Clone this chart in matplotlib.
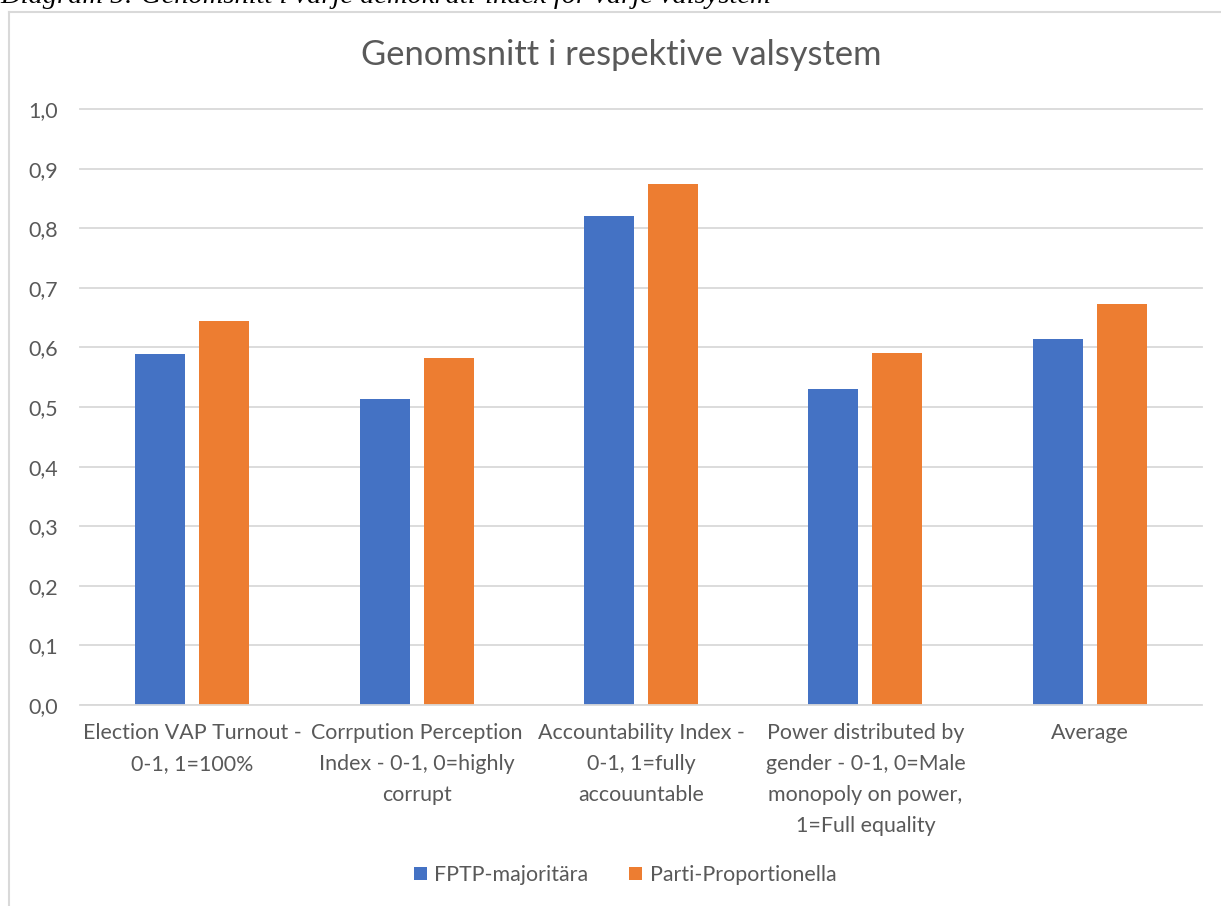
import matplotlib
matplotlib.use("Agg")
import matplotlib.pyplot as plt
from matplotlib.lines import Line2D
from matplotlib.patches import Patch
import numpy as np

categories = [
    "Election VAP Turnout -\n0-1, 1=100%",
    "Corrpution Perception\nIndex - 0-1, 0=highly\ncorrupt",
    "Accountability Index -\n0-1, 1=fully\naccouuntable",
    "Power distributed by\ngender - 0-1, 0=Male\nmonopoly on power,\n1=Full equality",
    "Average",
]
fptp = [0.589, 0.514, 0.821, 0.531, 0.614]
parti = [0.644, 0.582, 0.874, 0.590, 0.673]
series_names = ["FPTP-majoritära", "Parti-Proportionella"]
yticks = [0.0, 0.1, 0.2, 0.3, 0.4, 0.5, 0.6, 0.7, 0.8, 0.9, 1.0]
ytick_labels = ["0,0", "0,1", "0,2", "0,3", "0,4", "0,5", "0,6", "0,7", "0,8", "0,9", "1,0"]
title = "Genomsnitt i respektive valsystem"
caption = "Diagram 5: Genomsnitt i varje demokrati-index för varje valsystem"

W, H = 1221, 906
BLUE = "#4472C4"
ORANGE = "#ED7D31"
GRAY = "#595959"
GRID = "#D9D9D9"
FONT = "Lato"
FS = 15.4

fig = plt.figure(figsize=(W / 100, H / 100), dpi=100)
fig.patch.set_facecolor("white")

left, right, bottom, top = 80, 1202, 705, 109
ax = fig.add_axes([left / W, 1 - bottom / H, (right - left) / W, (bottom - top) / H])

x = np.arange(len(categories))
bw = 0.2227
off = 0.1425
ax.bar(x - off, fptp, width=bw, color=BLUE, zorder=3, label=series_names[0])
ax.bar(x + off, parti, width=bw, color=ORANGE, zorder=3, label=series_names[1])

ax.set_xlim(-0.5, len(categories) - 0.5)
ax.set_ylim(0, 1.0)
ax.set_yticks(yticks)
ax.set_yticklabels(ytick_labels, fontsize=FS, color=GRAY, family=FONT)
ax.set_xticks(x)
ax.set_xticklabels(categories, fontsize=FS, color=GRAY, family=FONT, linespacing=1.68)
ax.tick_params(axis="both", length=0)
ax.tick_params(axis="y", pad=16)
ax.tick_params(axis="x", pad=13)
for s in ax.spines.values():
    s.set_visible(False)
ax.grid(axis="y", color=GRID, linewidth=1.3, zorder=0)
for gl in ax.get_ygridlines():
    gl.set_clip_on(False)
ax.axhline(0, color=GRID, linewidth=1.3, zorder=4)

fig.text(621 / W, 1 - 55 / H, title, ha="center", va="center", fontsize=24.8,
         color=GRAY, family=FONT)

# chart frame
fig.add_artist(Line2D([9 / W, 9 / W], [0, 1 - 12 / H], color=GRID, linewidth=1.5))
fig.add_artist(Line2D([9 / W, 1], [1 - 12 / H, 1 - 12 / H], color=GRID, linewidth=1.5))

# caption (cut off at the top)
fig.text(0, 1 - 3 / H, caption, ha="left", va="baseline", fontsize=20.5,
         family="Liberation Serif", style="italic", color="black")

handles = [Patch(facecolor=BLUE), Patch(facecolor=ORANGE)]
fig.legend(handles, series_names, loc="center", bbox_to_anchor=(625 / W, 1 - 875 / H),
           ncol=2, frameon=False, handlelength=0.62, handleheight=0.62,
           handletextpad=0.35, columnspacing=1.9,
           prop={"family": FONT, "size": FS}, labelcolor=GRAY)

fig.savefig("out.png", dpi=100)
